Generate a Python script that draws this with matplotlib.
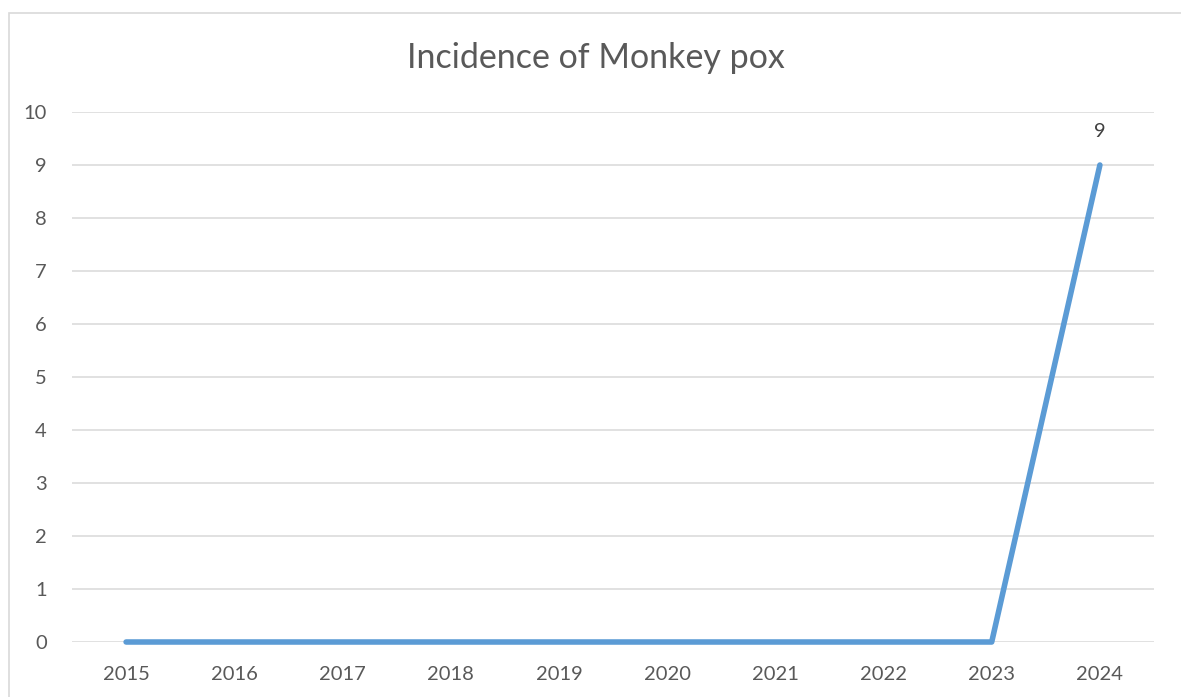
import matplotlib.pyplot as plt
from matplotlib.patches import Rectangle

years = ["2015", "2016", "2017", "2018", "2019", "2020", "2021", "2022", "2023", "2024"]
cases = [0, 0, 0, 0, 0, 0, 0, 0, 0, 9]

line_color = "#5B9BD5"
text_color = "#595959"
grid_color = "#D9D9D9"

plt.rcParams["font.family"] = ["Lato", "DejaVu Sans"]

fig = plt.figure(figsize=(11.81, 6.97), dpi=100)

# chart frame (runs off the right and bottom edges)
fig.patches.append(Rectangle((8.5 / 1181, -0.05), 1.2, 1.05 - 13.5 / 697,
                             transform=fig.transFigure, fill=False,
                             edgecolor=grid_color, linewidth=1.2))

ax = fig.add_axes([72 / 1181, 55 / 697, (1154 - 72) / 1181, (642 - 112) / 697])
x = range(len(years))
ax.plot(x, cases, color=line_color, linewidth=4, solid_capstyle="round",
        solid_joinstyle="round", zorder=3, clip_on=False)

ax.set_xlim(-0.5, len(years) - 0.5)
ax.set_ylim(0, 10)
ax.set_yticks(range(0, 11))
ax.set_xticks(list(x))
ax.set_xticklabels(years)
ax.grid(axis="y", color=grid_color, linewidth=1.1)
ax.set_axisbelow(True)
for s in ax.spines.values():
    s.set_visible(False)
ax.tick_params(length=0, labelsize=14.5, colors=text_color)
ax.tick_params(axis="x", pad=17)
ax.tick_params(axis="y", pad=18)

# label on the last point
ax.annotate(str(cases[-1]), (x[-1], cases[-1]), xytext=(0, 24),
            textcoords="offset points", ha="center", va="center",
            fontsize=14.5, color="#404040")

fig.text(596 / 1181, 1 - 58 / 697, "Incidence of Monkey pox", ha="center",
         va="center", fontsize=24.5, color=text_color)

fig.savefig("out.png", dpi=100)
